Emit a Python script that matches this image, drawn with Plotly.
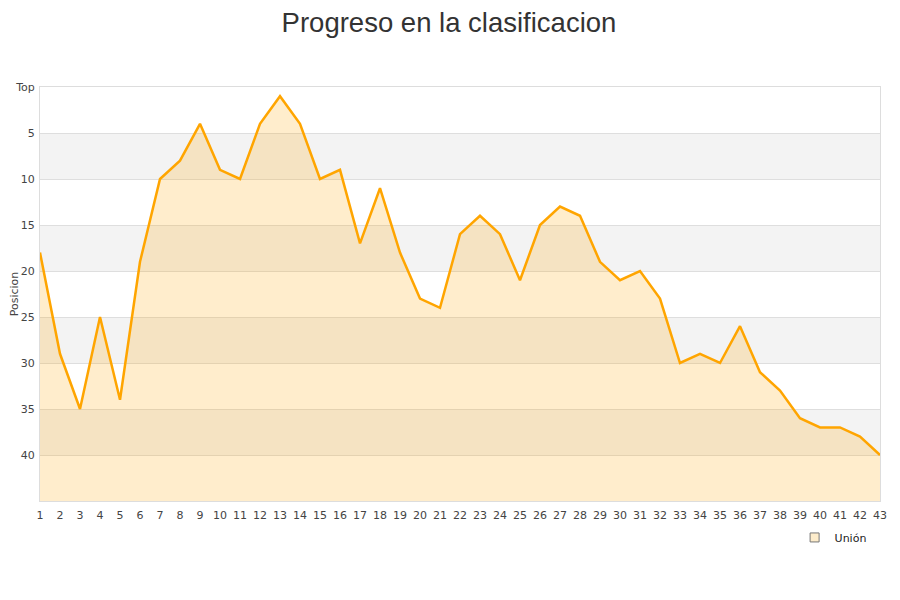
import plotly.graph_objects as go

jornadas = list(range(1, 44))
posiciones = [18, 29, 35, 25, 34, 19, 10, 8, 4, 9,
              10, 4, 1, 4, 10, 9, 17, 11, 18, 23,
              24, 16, 14, 16, 21, 15, 13, 14, 19, 21,
              20, 23, 30, 29, 30, 26, 31, 33, 36, 37,
              37, 38, 40]
equipo = 'Unión'
y_ticks = [0, 5, 10, 15, 20, 25, 30, 35, 40]
y_labels = ['Top'] + [str(v) for v in y_ticks[1:]]
fondo = 45

fig = go.Figure()

# base invisible para rellenar hacia abajo (eje invertido)
fig.add_trace(go.Scatter(
    x=jornadas, y=[fondo] * len(jornadas),
    mode='lines', line=dict(width=0, color='rgba(0,0,0,0)'),
    hoverinfo='skip', showlegend=False
))
fig.add_trace(go.Scatter(
    x=jornadas, y=posiciones,
    mode='lines', fill='tonexty',
    fillcolor='rgba(255,165,0,0.2)',
    line=dict(color='#ffa500', width=2.5),
    name=equipo, showlegend=False
))
# entrada de leyenda
fig.add_trace(go.Scatter(
    x=[None], y=[None], mode='markers', name=equipo,
    marker=dict(symbol='square', size=9, color='#fdeccb',
                line=dict(color='#777', width=1))
))

# bandas grises alternas
for i in range(1, len(y_ticks), 2):
    fig.add_shape(type='rect', xref='paper', yref='y',
                  x0=0, x1=1, y0=y_ticks[i], y1=y_ticks[i] + 5,
                  fillcolor='#f3f3f3', line=dict(width=0), layer='below')

fig.update_layout(
    width=900, height=600,
    paper_bgcolor='white', plot_bgcolor='white',
    margin=dict(l=32, r=28, t=79, b=107, autoexpand=False),
    title=dict(text='Progreso en la clasificacion', x=0.49, xanchor='center',
               y=0.976, yanchor='middle',
               font=dict(family='Liberation Sans', size=27.5, color='#333')),
    font=dict(family='DejaVu Sans', size=11, color='#444'),
    legend=dict(x=0.99, y=-0.053, xanchor='right', yanchor='top',
                itemwidth=30,
                font=dict(size=11, color='#222'), bgcolor='rgba(0,0,0,0)'),
    showlegend=True,
)
fig.update_xaxes(
    range=[1, 43], tickmode='linear', tick0=1, dtick=1,
    showgrid=False, zeroline=False, automargin=False,
    showline=True, linecolor='#ddd', mirror=True,
    ticks='', ticklabelstandoff=4,
)
fig.update_yaxes(
    range=[fondo, 0], tickvals=y_ticks, ticktext=y_labels,
    showgrid=True, gridcolor='#dedede', zeroline=False, automargin=False,
    showline=True, linecolor='#ddd', mirror=True,
    ticks='', ticklabelstandoff=2,
    title=dict(text='Posicion', font=dict(size=11), standoff=2),
)

fig.write_html("out.html")
